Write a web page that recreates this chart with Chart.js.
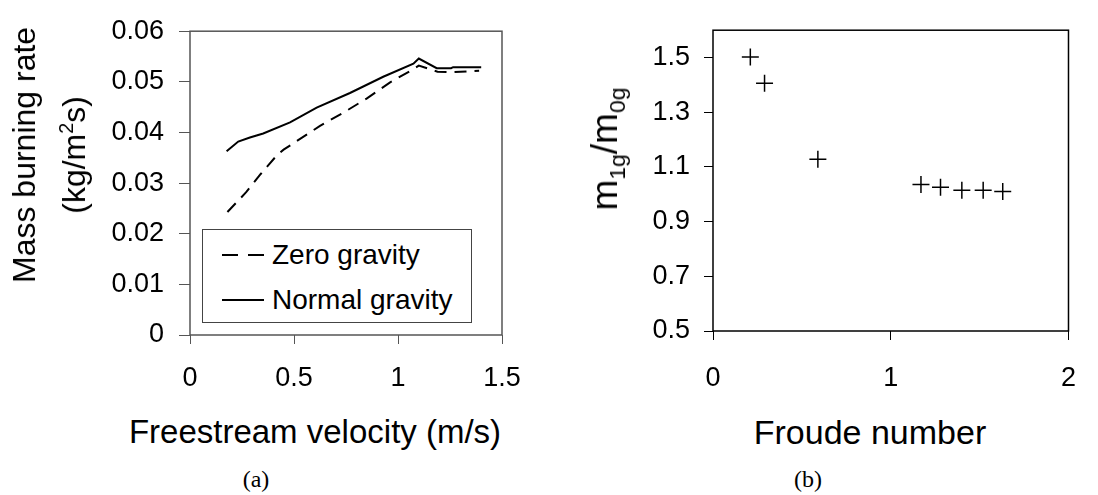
<!DOCTYPE html>
<html>
<head>
<meta charset="utf-8">
<script src="https://cdn.jsdelivr.net/npm/chart.js@4/dist/chart.umd.min.js"></script>
<style>
  html, body { margin: 0; padding: 0; background: #fff; }
  body { width: 1098px; height: 495px; position: relative; overflow: hidden;
         font-family: 'Liberation Sans', Arial, sans-serif; color: #000; }
  .box { position: absolute; }
  .lbl { position: absolute; white-space: nowrap; transform: translate(-50%, -50%); }
  .rot { transform: translate(-50%, -50%) rotate(-90deg); text-align: center; }
  .cap { font-family: 'Liberation Serif', 'Times New Roman', serif; font-size: 24px; }
  sup, sub { font-size: 62%; line-height: 0; }
  .legend { position: absolute; left: 202px; top: 229px; width: 270px; height: 94px;
            box-sizing: border-box; border: 1.5px solid #444; background: #fff; }
  .legend .row { position: absolute; left: 19px; height: 32px; display: flex; align-items: center;
                 font-size: 28px; white-space: nowrap; }
  .legend svg { margin-right: 8px; }
</style>
</head>
<body>
<div class="box" style="left:0;top:0;width:540px;height:400px;"><canvas id="chart-a"></canvas></div>
<div class="box" style="left:560px;top:0;width:538px;height:400px;"><canvas id="chart-b"></canvas></div>

<div class="lbl rot" style="left:49px;top:155px;font-size:32px;line-height:50px;">Mass burning rate<br>(kg/m<sup>2</sup>s)</div>
<div class="lbl" style="left:315px;top:432px;font-size:33px;">Freestream velocity (m/s)</div>
<div class="lbl rot" style="left:605px;top:149px;font-size:37px;">m<sub>1g</sub>/m<sub>0g</sub></div>
<div class="lbl" style="left:870px;top:432px;font-size:34px;">Froude number</div>
<div class="lbl cap" style="left:256px;top:479px;">(a)</div>
<div class="lbl cap" style="left:808px;top:479px;">(b)</div>

<div class="legend">
  <div class="row" style="top:9px;"><svg width="42" height="4"><line x1="0" y1="2" x2="42" y2="2" stroke="#000" stroke-width="2" stroke-dasharray="16,10"/></svg>Zero gravity</div>
  <div class="row" style="top:54px;"><svg width="42" height="4"><line x1="0" y1="2" x2="42" y2="2" stroke="#000" stroke-width="2"/></svg>Normal gravity</div>
</div>

<script>
// (a) mass burning rate vs freestream velocity
const velZero = [0.18, 0.27, 0.34, 0.42, 0.45, 0.625, 0.737, 0.849, 0.962, 1.074, 1.10, 1.19, 1.26, 1.39];
const rateZero = [0.0243, 0.0282, 0.0318, 0.0356, 0.0366, 0.0413, 0.0439, 0.0467, 0.0499, 0.0525, 0.0532, 0.0520, 0.0519, 0.0522];
const velNormal = [0.176, 0.232, 0.288, 0.352, 0.481, 0.609, 0.769, 0.929, 1.074, 1.10, 1.186, 1.255, 1.265, 1.40];
const rateNormal = [0.0363, 0.0382, 0.0390, 0.0398, 0.0420, 0.0449, 0.0478, 0.0510, 0.0536, 0.0546, 0.0527, 0.0527, 0.0529, 0.0529];
const xTicksA = [0, 0.5, 1, 1.5];
const yTicksA = [0, 0.01, 0.02, 0.03, 0.04, 0.05, 0.06];

// (b) ratio vs Froude number
const froude = [0.21, 0.29, 0.59, 1.17, 1.28, 1.40, 1.52, 1.63];
const ratio = [1.502, 1.406, 1.128, 1.036, 1.026, 1.015, 1.015, 1.010];
const xTicksB = [0, 1, 2];
const yTicksB = [0.5, 0.7, 0.9, 1.1, 1.3, 1.5];

const toPoints = (xs, ys) => xs.map((x, i) => ({ x, y: ys[i] }));
const tickFont = { family: "'Liberation Sans', Arial, sans-serif", size: 27 };

const plotBorder = {
    id: 'plotBorder',
    afterDraw(chart, args, opts) {
        const { ctx, chartArea: a } = chart;
        ctx.save();
        ctx.strokeStyle = opts.color;
        ctx.lineWidth = opts.width;
        ctx.strokeRect(a.left, a.top, a.right - a.left, a.bottom - a.top);
        ctx.restore();
    },
};

function axis(min, max, ticks, size, tickLength, padding, color) {
    return {
        type: 'linear',
        min,
        max,
        afterBuildTicks: (scale) => { scale.ticks = ticks.map((v) => ({ value: v })); },
        afterFit: (scale) => {
            if (scale.isHorizontal()) scale.height = size;
            else scale.width = size;
        },
        border: { display: false },
        grid: { drawOnChartArea: false, drawTicks: true, tickLength, color, lineWidth: 1 },
        ticks: { color: '#000', font: tickFont, padding, maxRotation: 0, callback: (v) => String(v) },
    };
}

new Chart(document.getElementById('chart-a'), {
    type: 'line',
    data: {
        datasets: [
            {
                label: 'Zero gravity',
                data: toPoints(velZero, rateZero),
                borderColor: '#000',
                borderWidth: 2,
                borderDash: [12, 8],
                pointRadius: 0,
                tension: 0,
            },
            {
                label: 'Normal gravity',
                data: toPoints(velNormal, rateNormal),
                borderColor: '#000',
                borderWidth: 2,
                pointRadius: 0,
                tension: 0,
            },
        ],
    },
    options: {
        responsive: true,
        maintainAspectRatio: false,
        animation: false,
        layout: { padding: { left: 0, top: 21, right: 38, bottom: 0 } },
        plugins: {
            legend: { display: false },
            tooltip: { enabled: false },
            plotBorder: { color: '#555', width: 1.5 },
        },
        scales: {
            x: axis(0, 1.5, xTicksA, 65, 9, 18, '#555'),
            y: axis(0, 0.06, yTicksA, 190, 11, 15, '#555'),
        },
    },
    plugins: [plotBorder],
});

new Chart(document.getElementById('chart-b'), {
    type: 'scatter',
    data: {
        datasets: [
            {
                label: 'm1g/m0g',
                data: toPoints(froude, ratio),
                pointStyle: 'cross',
                pointRadius: 8.5,
                borderColor: '#000',
                borderWidth: 1.5,
                backgroundColor: '#000',
            },
        ],
    },
    options: {
        responsive: true,
        maintainAspectRatio: false,
        animation: false,
        layout: { padding: { left: 0, top: 14, right: 15, bottom: 0 } },
        plugins: {
            legend: { display: false },
            tooltip: { enabled: false },
            plotBorder: { color: '#000', width: 1.5 },
        },
        scales: {
            x: axis(0, 2, xTicksB, 69, 9, 22, '#000'),
            y: axis(0.5, 1.6, yTicksB, 153, 9, 14, '#000'),
        },
    },
    plugins: [plotBorder],
});
</script>
</body>
</html>
